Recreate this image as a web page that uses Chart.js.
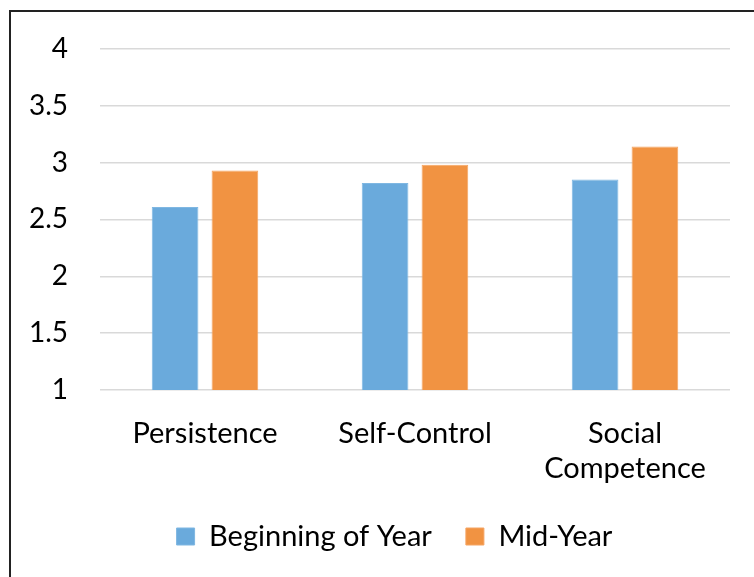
<!DOCTYPE html>
<html>
<head>
<meta charset="utf-8">
<script src="https://cdn.jsdelivr.net/npm/chart.js@4/dist/chart.umd.min.js"></script>
<style>
  html, body { margin: 0; padding: 0; background: #fff; }
  #wrap { position: relative; width: 754px; height: 577px; overflow: hidden; }
  #frame { position: absolute; left: 9px; top: 10px; width: 800px; height: 700px;
           border-left: 2px solid #222; border-top: 2px solid #222; box-sizing: border-box; }
  canvas { position: absolute; left: 0; top: 0; }
</style>
</head>
<body>
<div id="wrap">
  <div id="frame"></div>
  <canvas id="c" width="754" height="577"></canvas>
</div>
<script>
const categories = [["Persistence"], ["Self-Control"], ["Social", "Competence"]];
const seriesNames = ["Beginning of Year", "Mid-Year"];
const beginningOfYear = [2.61, 2.82, 2.85];
const midYear = [2.93, 2.98, 3.14];
const yTicks = [1, 1.5, 2, 2.5, 3, 3.5, 4];
const yTickLabels = ["1", "1.5", "2", "2.5", "3", "3.5", "4"];

const FONT = "Lato";

const shiftLegend = {
  id: 'shiftLegend',
  afterLayout(chart) {
    if (chart.legend) { chart.legend.left += 59; }
  }
};

new Chart(document.getElementById('c'), {
  type: 'bar',
  data: {
    labels: categories,
    datasets: [
      { label: seriesNames[0], data: beginningOfYear, backgroundColor: '#6aaadc', borderColor: '#7fb7e2', borderWidth: 1,
        categoryPercentage: 0.57, barPercentage: 0.78 },
      { label: seriesNames[1], data: midYear, backgroundColor: '#f19342', borderColor: '#f5a462', borderWidth: 1,
        categoryPercentage: 0.57, barPercentage: 0.78 }
    ]
  },
  plugins: [shiftLegend],
  options: {
    responsive: false,
    animation: false,
    devicePixelRatio: 1,
    layout: { padding: { left: 0, right: 24, top: 29, bottom: 16 } },
    plugins: {
      tooltip: { enabled: false },
      legend: {
        position: 'bottom',
        labels: {
          font: { family: FONT, size: 29 },
          color: '#000',
          boxWidth: 18,
          boxHeight: 17,
          padding: 34
        }
      }
    },
    scales: {
      x: {
        grid: { display: false },
        border: { display: false },
        afterFit: (s) => { s.height = 98; },
        ticks: { font: { family: FONT, size: 29, lineHeight: 1.2 }, color: '#000', padding: 18, maxRotation: 0 }
      },
      y: {
        min: 1, max: 4,
        afterBuildTicks: (s) => { s.ticks = yTicks.map(v => ({ value: v })); },
        afterFit: (s) => { s.width = 100; },
        grid: { color: '#d9d9d9', lineWidth: 1.5, drawTicks: false },
        border: { display: false },
        ticks: {
          font: { family: FONT, size: 28 }, color: '#000', padding: 32,
          callback: (v) => yTickLabels[yTicks.indexOf(v)]
        }
      }
    }
  }
});
</script>
</body>
</html>
